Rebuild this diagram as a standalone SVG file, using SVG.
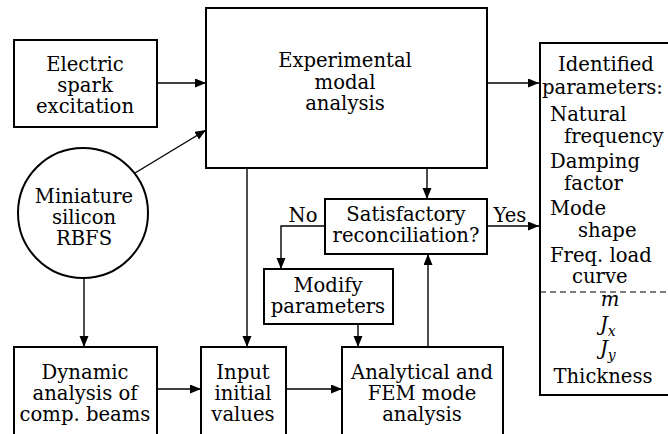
<svg xmlns="http://www.w3.org/2000/svg" width="668" height="434" viewBox="0 0 668 434">
<style>
  .box { fill: #fff; stroke: #000; stroke-width: 2; }
  .t { font-family: "DejaVu Serif", "Liberation Serif", serif; font-size: 19.6px; fill: #000; }
  .c { text-anchor: middle; }
  .i { font-style: italic; }
  .ln { fill: none; stroke: #000; stroke-width: 1.4; }
</style>
<defs>
  <marker id="ah" markerUnits="userSpaceOnUse" markerWidth="12" markerHeight="10" refX="11" refY="4.5" orient="auto">
    <path d="M0,0 L11,4.5 L0,9 z" fill="#000"/>
  </marker>
</defs>
<rect width="668" height="434" fill="#fff"/>

<g id="connectors">
  <path class="ln" d="M157,83 H206" marker-end="url(#ah)"/>
  <path class="ln" d="M487,83 H539" marker-end="url(#ah)"/>
  <path class="ln" d="M135,173 L206,130" marker-end="url(#ah)"/>
  <path class="ln" d="M427,168 V199" marker-end="url(#ah)"/>
  <path class="ln" d="M247,168 V347" marker-end="url(#ah)"/>
  <path class="ln" d="M325,226 H281 V269" marker-end="url(#ah)"/>
  <path class="ln" d="M487,226 H539" marker-end="url(#ah)"/>
  <path class="ln" d="M358,324 V347" marker-end="url(#ah)"/>
  <path class="ln" d="M428,347 V254" marker-end="url(#ah)"/>
  <path class="ln" d="M84,278 V347" marker-end="url(#ah)"/>
  <path class="ln" d="M157,389 H201" marker-end="url(#ah)"/>
  <path class="ln" d="M286,389 H342" marker-end="url(#ah)"/>
  <text class="t c" x="303" y="222">No</text>
  <text class="t c" x="510" y="222">Yes</text>
</g>

<g id="electric">
  <rect class="box" x="14" y="40" width="143" height="87"/>
  <text class="t c" x="85" y="71">Electric</text>
  <text class="t c" x="85" y="92">spark</text>
  <text class="t c" x="85" y="113">excitation</text>
</g>

<g id="experimental">
  <rect class="box" x="206" y="8" width="281" height="160"/>
  <text class="t c" x="345" y="67">Experimental</text>
  <text class="t c" x="345" y="89">modal</text>
  <text class="t c" x="345" y="110">analysis</text>
</g>

<g id="rbfs">
  <circle class="box" cx="83" cy="213" r="65"/>
  <text class="t c" x="84" y="203">Miniature</text>
  <text class="t c" x="84" y="224">silicon</text>
  <text class="t c" x="84" y="245">RBFS</text>
</g>

<g id="satisfactory">
  <rect class="box" x="325" y="199" width="162" height="55"/>
  <text class="t c" x="406" y="221">Satisfactory</text>
  <text class="t c" x="406" y="242">reconciliation?</text>
</g>

<g id="modify">
  <rect class="box" x="264" y="269" width="129" height="55"/>
  <text class="t c" x="328" y="292">Modify</text>
  <text class="t c" x="328" y="313">parameters</text>
</g>

<g id="dynamic">
  <rect class="box" x="14" y="347" width="143" height="95"/>
  <text class="t c" x="85" y="379">Dynamic</text>
  <text class="t c" x="85" y="400">analysis of</text>
  <text class="t c" x="85" y="421">comp. beams</text>
</g>

<g id="input">
  <rect class="box" x="201" y="347" width="85" height="95"/>
  <text class="t c" x="243" y="379">Input</text>
  <text class="t c" x="243" y="400">initial</text>
  <text class="t c" x="243" y="421">values</text>
</g>

<g id="analytical">
  <rect class="box" x="342" y="347" width="161" height="95"/>
  <text class="t c" x="422" y="379">Analytical and</text>
  <text class="t c" x="422" y="400">FEM mode</text>
  <text class="t c" x="422" y="421">analysis</text>
</g>

<g id="identified">
  <rect class="box" x="540" y="43" width="140" height="352"/>
  <text class="t c" x="606" y="71">Identified</text>
  <text class="t" x="542" y="94">parameters:</text>
  <text class="t" x="550" y="121">Natural</text>
  <text class="t" x="564" y="143">frequency</text>
  <text class="t" x="550" y="168">Damping</text>
  <text class="t" x="564" y="190">factor</text>
  <text class="t" x="550" y="215">Mode</text>
  <text class="t" x="578" y="237">shape</text>
  <text class="t" x="550" y="262">Freq. load</text>
  <text class="t" x="572" y="283">curve</text>
  <path d="M540,292 H668" stroke="#000" stroke-width="1.2" stroke-dasharray="6,4" fill="none"/>
  <text class="t c i" x="610" y="306">m</text>
  <text class="t i" x="600" y="331">J<tspan font-size="14" dy="5">x</tspan></text>
  <text class="t i" x="600" y="355">J<tspan font-size="14" dy="5">y</tspan></text>
  <text class="t c" x="603" y="383">Thickness</text>
</g>
</svg>
